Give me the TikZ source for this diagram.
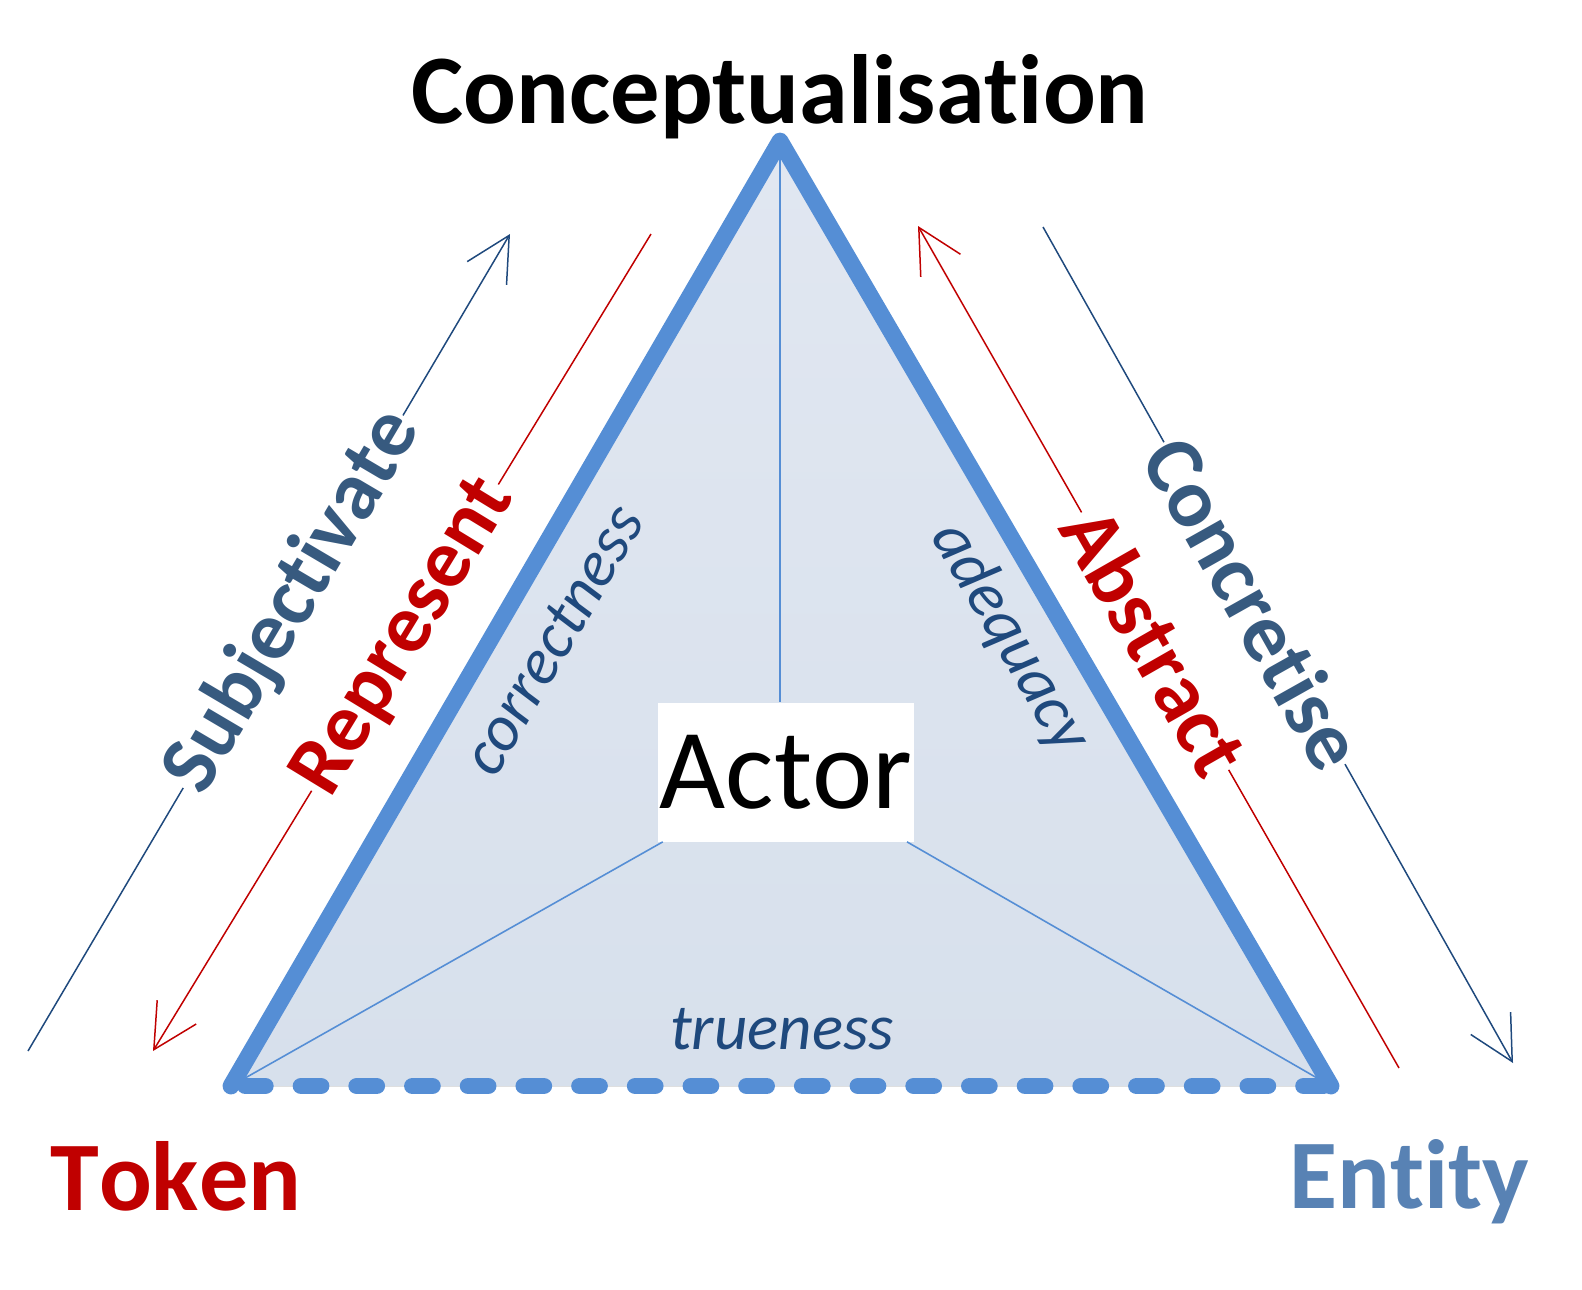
\documentclass[tikz,border=0pt]{standalone}
\usepackage{fontspec}
\setmainfont{Carlito}[Ligatures=NoCommon, Kerning=Off]
\usetikzlibrary{arrows.meta,positioning,calc}

\definecolor{triblue}{HTML}{558ED5}
\definecolor{filltop}{HTML}{E1E7F1}
\definecolor{fillbot}{HTML}{D7E0EC}
\definecolor{darkred}{HTML}{C00000}
\definecolor{navy}{HTML}{1F497D}
\definecolor{slate}{HTML}{375A7F}
\definecolor{steel}{HTML}{5882B4}

\begin{document}
\begin{tikzpicture}[x=0.02cm, y=-0.02cm,
  edge/.style={draw=triblue, line width=9.6pt, line cap=round, line join=round},
  spoke/.style={draw=triblue, line width=0.9pt},
  lnk/.style={line width=0.85pt},
  tip/.style={-{Straight Barb[length=25pt, width=26pt]}},
  big/.style={font=\fontsize{56}{60}\selectfont\bfseries, anchor=base, inner sep=0pt},
  verb/.style={font=\fontsize{47.5}{50}\selectfont\bfseries, sloped, inner xsep=1pt, inner ysep=0pt},
  qual/.style={font=\fontsize{37}{40}\selectfont\itshape, text=navy},
]
\useasboundingbox (0,0) rectangle (1582,1289);

% corners of the triangle
\coordinate (T) at (780,141);
\coordinate (L) at (231,1086);
\coordinate (R) at (1331,1086);
\fill[top color=filltop, bottom color=fillbot] (T) -- (L) -- (R) -- cycle;

% actor in the middle
\node[fill=white, inner xsep=0pt, minimum width=5.12cm, minimum height=2.78cm,
      font=\fontsize{65}{70}\selectfont] (actor) at (786,772) {Actor};
\draw[spoke] (T) -- (T |- actor.north);
\draw[spoke] (L) -- (actor);
\draw[spoke] (R) -- (actor);

\node[qual, rotate=59.8] (corr) at (553,640) {correctness};
\node[qual, rotate=-59.7] (adeq) at (1010,638) {adequacy};
\node[qual, anchor=base] (true) at (782,1049) {trueness};

\draw[edge] (L) -- (T) -- (R);
\draw[edge, dash pattern=on 11.3pt off 20.4pt, dash phase=23.5pt] (L) -- (R);

\node[big] (concept) at (780,123) {Conceptualisation};
\node[big, anchor=base west, text=darkred] (token) at (50,1210) {Token};
\node[big, anchor=base west, text=steel] (entity) at (1289,1208) {Entity};

% left side: subjectivate / represent
\coordinate (s0) at (28,1051);
\coordinate (s1) at (510,234);
\path (s0) -- (s1) node[verb, text=slate, pos=0.55] (subj) {Subjectivate};
\draw[lnk, navy] (s0) -- (subj);
\draw[lnk, navy, tip] (subj) -- (s1);

\coordinate (r0) at (651,234);
\coordinate (r1) at (153,1051);
\path (r0) -- (r1) node[verb, text=darkred, pos=0.494] (repr) {Represent};
\draw[lnk, darkred] (r0) -- (repr);
\draw[lnk, darkred, tip] (repr) -- (r1);

% right side: abstract / concretise
\coordinate (a0) at (1399,1068);
\coordinate (a1) at (918,226);
\path (a0) -- (a1) node[verb, text=darkred, pos=0.507] (abst) {Abstract};
\draw[lnk, darkred] (a0) -- (abst);
\draw[lnk, darkred, tip] (abst) -- (a1);

\coordinate (c0) at (1043,227);
\coordinate (c1) at (1513,1063);
\path (c0) -- (c1) node[verb, text=slate, pos=0.45] (conc) {Concretise};
\draw[lnk, navy] (c0) -- (conc);
\draw[lnk, navy, tip] (conc) -- (c1);
\end{tikzpicture}
\end{document}
